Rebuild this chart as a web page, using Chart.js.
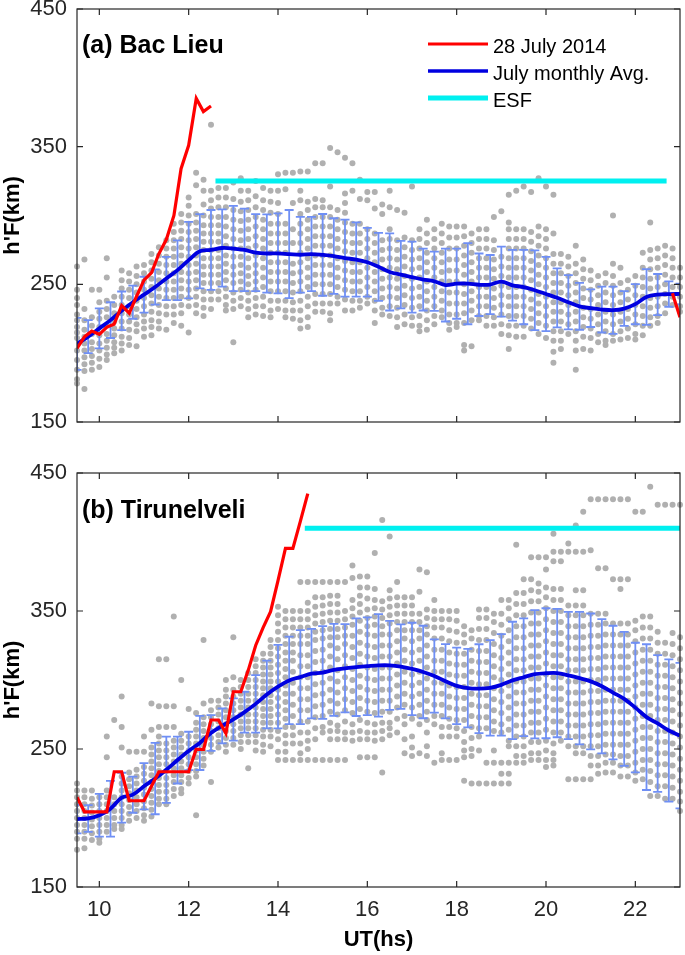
<!DOCTYPE html>
<html>
<head>
<meta charset="utf-8">
<script src="https://cdn.jsdelivr.net/npm/chart.js"></script>
<style>
body{margin:0;background:#fff;}
#wrap{position:relative;width:685px;height:955px;}
canvas{position:absolute;left:0;}
</style>
</head>
<body>
<div id="wrap">
<canvas id="chartA" width="685" height="445" style="top:0"></canvas>
<canvas id="chartB" width="685" height="505" style="top:450px"></canvas>
</div>
<script>
// axis ticks
const xTicks = [10, 12, 14, 16, 18, 20, 22];
const yTicks = [150, 250, 350, 450];
const tStart = 9.5;
const dotStep = 1/6;   // gray dots every 10 min
const binStep = 0.25;  // mean / std every 15 min

// ---- (a) Bac Lieu ----
const meanA = [206.7,212,218,224,230.8,237,242.5,248,254.3,260.3,267.6,274,275,276.4,276,275,273,272.4,272.5,272,271.5,272,271.4,270.5,269,268,266,262.7,259,257,255.2,253.5,252.2,249.5,250.5,250.5,249.7,249.8,252,249.3,248,245.7,243,240.2,237,234,232.7,231.7,231.2,232.4,235.6,240.8,242.6,242.9,243];
const sdA = [18.9,12,14.5,13,14,12,13,12.8,15.7,21.7,27.8,27,29,28,31,30,28,28.4,29,32,27.5,27,29.7,27.5,28,27,25,24.7,28,24.5,25.8,22.5,21.5,26.5,25.5,29.5,22.7,21.5,25.4,25.7,27,28.9,27,21.4,19.7,17,13.7,16.7,17.2,12.6,14.6,20.3,14.9,9.2,7.5];
const redTimesA = [9.5,9.67,9.83,10,10.17,10.33,10.5,10.67,10.83,11,11.17,11.33,11.5,11.67,11.83,12,12.17,12.33,12.5,12.67,22.83,23];
const redA = [203.5,212,216,213.7,219,221,234.5,229,241,253,258.5,272,282.5,300,334,351,385,375.5,379.5,null,243.5,226];
const esfTimesA = [12.6, 22.7];
const esfLevelA = 325;
const dotsA = [
[263,246,240,235,228,224,219,215,211,202,195,188,181,178],
[268,232,224,217,212,207,202,197,192,187,174],
[246,226,220,214,208,203,198,193,188],
[246,237,230,225,219,213,207,202,196,190],
[269,255,238,232,226,220,214,209,204,199,195],
[241,235,229,223,218,213,208,204,200],
[260,253,247,241,235,229,223,218,212,207,202],
[258,252,246,240,234,228,223,217,211,206],
[263,256,250,244,238,232,226,221,216,205],
[264,258,252,246,240,234,228,223,218,212],
[272,266,260,254,248,242,236,230,224,219,213],
[277,271,265,259,253,247,241,235,229,223,218],
[282,276,270,264,258,252,246,240,234,228,217],
[294,288,282,276,270,264,258,252,246,240,234,228,222],
[301,295,289,283,277,271,265,259,253,247,241,235,229,220],
[313,307,300,294,288,282,276,270,264,258,252,246,240,234,215],
[331,322,301,295,289,283,277,271,265,259,253,247,241,235,229],
[326,318,308,300,293,287,281,275,269,263,257,251,245,239,233,227],
[366,318,311,305,299,293,287,281,275,269,263,257,251,245,239,232],
[320,313,306,299,293,287,281,275,269,263,257,251,245,239],
[320,313,306,299,292,285,278,271,265,259,253,247,241,235,231],
[324,312,304,297,290,283,276,270,263,257,251,244,238,232,208],
[327,318,310,303,296,289,282,276,270,264,258,252,246,240,234],
[318,311,304,297,290,283,276,269,262,256,250,244,238,232,226],
[325,314,306,299,292,285,278,271,264,258,252,246,240,234,228],
[320,311,304,297,290,283,276,269,262,255,248,241,234,227],
[318,310,302,294,287,280,273,266,259,252,245,238,231,226],
[330,318,309,301,294,287,280,273,266,259,252,245,238,232],
[331,319,294,287,280,273,266,259,252,245,238,231,226],
[331,309,290,280,265,258,251,244,237,231,225],
[332,318,311,301,294,287,280,273,266,259,252,245,238,231,224,218],
[332,310,304,297,290,283,276,269,262,255,248,241,234,226,219],
[338,312,306,299,292,285,278,271,264,257,250,243,236,230],
[338,311,306,299,292,285,278,271,264,257,250,243,236,230],
[349,321,306,299,292,285,278,271,264,257,250,243,236,229,224],
[346,304,297,290,283,276,269,262,255,248,241,236],
[342,316,309,302,295,288,281,274,267,260,253,246,239,231],
[338,318,294,287,280,273,266,259,252,245,238,231],
[326,312,294,287,280,273,266,259,252,245,238,233],
[317,311,290,283,276,269,262,255,248,241,236],
[317,305,287,280,273,266,259,252,245,238,231,222],
[308,301,282,275,268,261,254,247,240,233,228],
[318,306,290,283,276,269,262,255,248,241,234,227],
[304,282,275,268,261,254,247,240,233,226,219],
[302,284,277,270,263,256,249,242,235,228,221],
[321,282,275,268,261,254,247,240,233,226,220],
[290,283,276,269,262,255,248,241,234,227,220,216],
[297,287,280,273,266,259,252,245,238,231,224,217],
[290,283,276,269,262,255,248,241,234,227,221],
[294,287,280,273,266,259,252,245,238,231,226],
[292,284,276,268,260,252,244,236,228,222,217],
[292,284,276,268,260,252,244,236,228,222,219],
[292,285,278,271,264,257,250,243,236,229,222,206,202],
[287,280,273,266,259,252,245,238,231,224,205],
[290,283,276,269,262,255,248,241,234,227,224],
[290,283,276,269,262,255,248,241,234,227,220],
[299,282,275,268,261,254,247,240,233,226,220],
[303,270,263,256,249,242,235,228,221,214],
[315,295,290,283,276,269,262,255,248,241,234,227,220,213,203],
[318,290,283,276,269,262,255,248,241,234,227,220,212],
[321,290,283,276,269,262,255,248,241,234,227,220,212],
[317,288,281,274,267,260,253,246,239,232,225,218],
[327,292,285,278,271,264,257,250,243,236,229,222,214],
[321,290,283,276,269,262,255,248,241,234,227,220,211],
[315,287,272,265,258,251,244,237,230,223,216,209,201,193],
[272,265,258,251,244,237,230,223,216,209,203],
[270,263,256,249,242,235,228,221,214],
[278,265,258,251,244,237,230,223,216,209,202,188],
[268,261,254,247,240,233,226,219,212,203],
[260,253,246,239,232,225,218,211,202],
[256,249,242,235,228,221,214,208],
[258,251,244,237,230,223,216,209,206],
[300,265,256,249,242,235,228,221,214,209],
[262,251,244,237,230,223,216,210],
[253,246,239,232,225,218,211],
[256,249,242,235,228,221,214,210],
[273,262,255,248,241,234,227,220,213],
[295,275,268,261,254,247,240,233,226,220],
[276,269,262,255,248,241,234,227,222],
[278,271,264,257,250,243,236,229],
[276,269,262,255,248,241,235],
[262,255,248,241,234,230]
];

// ---- (b) Tirunelveli ----
const meanB = [199.2,199.7,202,206.7,214.7,216.9,223,228.6,235,242,248.6,254.4,261.6,266.8,271.4,276.7,282.7,289.5,295.2,299.7,302.1,304.6,305.4,307.3,308.5,309.3,310,310.6,310.6,309.7,308,305.8,302.9,299.1,295.7,294.1,293.7,294.3,296.5,299.7,302,304.2,304.9,305,303.3,301.3,299,295.5,290.9,286.3,280,273.1,268.5,263.4,259.7];
const sdB = [10.3,9.7,15.5,20.2,18.1,13.1,16.7,25.9,24,17,13.9,19.6,13,12.7,15.3,14.8,20.9,24.5,30.2,31.7,34.1,32.4,33.6,33.3,32,35.4,35.4,37.2,32.3,30.6,33.5,33.5,26.5,26.9,27.7,28.4,32.2,34.6,36.8,42.5,42.6,46.5,47.1,46.5,46.1,48,49.2,48.6,48.4,48.6,47,52.8,49.5,51.6,52.7];
// 10-min samples from 09:30 UT
const redB = [215,204.5,204.5,204.5,204.5,233.5,233.5,212.5,212.5,212.5,223,233.5,233.5,233.5,233.5,233.5,249.7,249.7,271,271,261.4,291.5,291.5,307,325,338,349.5,372,395.4,395.4,415,435];
const esfTimesB = [14.6, 23.2];
const esfLevelB = 410;
const dotsB = [
[225,220,215,210,205,200,195,190,185,177],
[220,215,210,205,200,195,190,185,178],
[220,214,209,204,199,194,189,184],
[215,210,205,200,195,190,185,182],
[259,244,220,215,210,205,200,195,190],
[271,215,210,205,200,195,192],
[288,266,251,230,225,220,215,210,205,200,195,192],
[248,233,228,223,218,213,208,203,198],
[248,235,230,225,220,215,210,205,200],
[259,248,237,232,227,222,217,212,207,202,198],
[283,264,251,246,241,236,231,226,221,216,211,206,201],
[315,281,266,259,254,249,244,239,234,229,224,219,214,210],
[315,281,266,254,249,244,239,234,229,224,219,214,210],
[346,281,266,256,251,246,241,236,231,226,221,216],
[300,261,256,251,246,241,236,231,226,221,218],
[279,259,254,249,244,239,234,229,225],
[276,269,264,259,254,249,244,239,234,230,202],
[329,283,273,268,263,258,253,248,243,238],
[285,278,273,268,263,258,253,248,226],
[285,280,275,270,265,260,255,251],
[300,293,288,283,278,273,268,263,258,253,248],
[331,302,293,288,283,278,273,268,263,258,253],
[300,295,290,285,280,275,270,265,260,255,250],
[305,300,295,290,285,280,275,270,265,260,255,236],
[315,310,305,300,295,290,285,280,275,270,265,260,255,249],
[319,314,309,304,299,294,289,284,279,274,269,264,259,253,248],
[329,324,319,314,309,304,299,294,289,284,279,274,269,264,259,252],
[353,347,341,335,329,323,317,311,305,299,293,287,281,275,269,263,257,248,242],
[350,344,338,332,326,320,314,308,302,296,290,284,278,272,266,260,254,248,242],
[350,344,338,332,326,320,314,306,298,290,282,274,266,260,254,242],
[371,350,344,338,332,326,318,310,302,294,286,278,270,262,254,247,242],
[371,356,350,344,338,332,326,318,310,302,294,286,278,270,262,256,250,242],
[371,360,353,347,341,335,329,321,313,305,297,289,281,273,265,257,242],
[371,360,354,348,342,336,330,322,314,306,298,290,282,274,266,262,242],
[371,361,355,349,343,337,331,325,317,309,301,293,285,277,269,263,257,242],
[371,361,355,349,343,337,331,323,315,307,299,291,283,275,267,263,257,242],
[371,350,344,338,332,326,318,310,302,294,286,278,270,262,257,242],
[383,374,358,352,346,340,332,324,316,308,300,292,284,276,268,262,256],
[375,367,361,355,349,343,335,327,319,311,303,295,287,279,271,263,257,244],
[375,367,359,351,345,339,333,325,317,309,301,293,285,277,269,262,257,244],
[392,366,358,352,346,340,332,324,316,308,300,292,284,276,268,262,256,244],
[416,357,351,345,339,333,325,317,309,301,293,285,277,269,263,257,233],
[404,365,359,353,347,341,333,325,317,309,301,293,285,277,269,265,260],
[371,360,354,348,342,336,328,320,312,304,296,288,280,272,262],
[360,354,348,342,336,330,322,314,306,298,290,282,274,268,257,247],
[360,354,348,342,336,328,320,312,304,296,288,280,272,259,251,245],
[380,364,348,342,336,330,322,314,306,298,290,282,274,268,247],
[378,351,345,339,333,325,317,309,301,293,285,277,271,262,252,245],
[358,350,344,338,330,322,314,306,298,290,282,274,268,240],
[350,344,338,330,322,314,306,298,290,282,274,266,259,247,242],
[350,344,336,328,320,312,304,296,288,280,272,266,259,242],
[350,343,335,327,319,311,303,295,287,279,271,265,259,242],
[339,333,327,319,311,303,295,287,279,271,263,255,249,244,227],
[336,330,322,314,306,298,290,282,274,266,258,250,245,225],
[351,345,337,329,321,313,305,297,289,281,273,265,259,249,225],
[351,345,337,329,321,313,305,297,289,281,273,265,240,225],
[348,342,334,326,318,310,302,294,286,278,270,263,249,240,225],
[358,348,340,332,324,316,308,300,292,284,276,268,262,240,232,225],
[358,352,344,336,328,320,312,304,296,288,280,272,264,256,252,240,232,225],
[398,363,355,347,339,331,323,315,307,299,291,283,275,267,259,252,245,240],
[373,363,355,347,339,331,323,315,307,299,291,283,275,267,259,252,245,240],
[389,373,365,357,349,341,333,325,317,309,301,293,285,277,269,262,255,247,242],
[389,370,364,357,349,341,333,325,317,309,301,293,285,277,269,262,255,247,242],
[389,380,367,360,352,344,336,328,320,312,304,296,288,280,272,264,256,249,242,237],
[406,393,386,366,358,350,342,334,326,318,310,302,294,286,278,270,262,254,247,242,238],
[393,386,366,358,350,342,334,326,318,310,302,294,286,278,270,262,256],
[399,393,354,347,339,331,323,315,307,299,291,283,275,267,259,252,228],
[412,393,365,354,347,339,331,323,315,307,299,291,283,275,267,259,252,247,228],
[422,393,365,354,347,339,331,323,315,307,299,291,283,275,267,259,252,247,228],
[431,394,348,340,332,324,316,308,300,292,284,276,268,260,252,245,238,228],
[431,381,348,340,332,324,316,308,300,292,284,276,268,260,252,245,238,232],
[431,381,348,341,333,325,317,309,301,293,285,277,269,261,253,246,240,233],
[431,373,341,333,325,317,309,301,293,285,277,269,261,253,246,240,233],
[431,373,366,341,333,325,317,309,301,293,285,277,269,261,253,245,238,230],
[431,373,341,333,325,317,309,301,293,285,277,269,261,253,245,238,230],
[422,343,336,328,320,312,304,296,288,280,272,264,256,248,240,233,227],
[422,346,338,330,322,314,306,298,290,282,274,266,258,250,242,235,228],
[440,346,338,330,322,314,306,298,290,282,274,266,258,250,242,234,226,216],
[427,335,327,319,311,303,295,287,279,271,263,255,247,239,231,223,216],
[427,327,319,311,303,295,287,279,271,263,255,247,239,231,223,214],
[427,334,326,318,310,302,294,286,278,270,262,254,246,238,230,222,214],
[427,331,323,315,307,299,291,283,275,267,259,251,243,235,227,219,212,205]
];

const FONT = "'Liberation Sans', Arial, Helvetica, sans-serif";
const INK = '#262626';
const DOT = '#B0B0B0';
const BAR = '#6F8FF5';
const AVG = '#0000E0';
const RED = '#FF0000';
const CYAN = '#00F0F0';

function noPad(s){
    s.paddingTop = 0; s.paddingBottom = 0;
    s.paddingLeft = 0; s.paddingRight = 0;
}

function framePlugin(p){
    return {
        id: 'frame' + p.key,
        afterDatasetDraw(chart, args){
            if(chart.data.datasets[args.index].label !== 'dots') return;
            // error bars (mean +/- std) right above the gray dots
            const {ctx, chartArea: ca, scales:{x, y}} = chart;
            ctx.save();
            ctx.beginPath();
            ctx.rect(ca.left, ca.top, ca.right - ca.left, ca.bottom - ca.top);
            ctx.clip();
            ctx.strokeStyle = BAR;
            ctx.lineWidth = 1.8;
            p.mean.forEach((m, k) => {
                const px = x.getPixelForValue(tStart + k*binStep);
                const top = y.getPixelForValue(m + p.sd[k]);
                const bot = y.getPixelForValue(m - p.sd[k]);
                ctx.beginPath();
                ctx.moveTo(px, top); ctx.lineTo(px, bot);
                ctx.moveTo(px - 4.5, top); ctx.lineTo(px + 4.5, top);
                ctx.moveTo(px - 4.5, bot); ctx.lineTo(px + 4.5, bot);
                ctx.stroke();
            });
            ctx.restore();
        },
        afterDraw(chart){
            const {ctx, chartArea: ca, scales:{x, y}} = chart;
            ctx.save();
            // box + inward ticks
            ctx.strokeStyle = INK;
            ctx.lineWidth = 1.2;
            ctx.strokeRect(ca.left, ca.top, ca.right - ca.left, ca.bottom - ca.top);
            ctx.beginPath();
            xTicks.forEach(v => {
                const px = x.getPixelForValue(v);
                ctx.moveTo(px, ca.bottom); ctx.lineTo(px, ca.bottom - 6);
                ctx.moveTo(px, ca.top); ctx.lineTo(px, ca.top + 6);
            });
            yTicks.forEach(v => {
                const py = y.getPixelForValue(v);
                ctx.moveTo(ca.left, py); ctx.lineTo(ca.left + 6, py);
                ctx.moveTo(ca.right, py); ctx.lineTo(ca.right - 6, py);
            });
            ctx.stroke();

            // panel title
            ctx.fillStyle = '#000';
            ctx.font = `bold 25px ${FONT}`;
            ctx.textBaseline = 'alphabetic';
            ctx.fillText(p.title, ca.left + 5, ca.top + p.titleDy);

            if(p.legend){
                const rows = [
                    {c: RED, w: 3, t: '28 July 2014', y: 44},
                    {c: AVG, w: 3.5, t: 'July monthly Avg.', y: 71},
                    {c: CYAN, w: 5, t: 'ESF', y: 98}
                ];
                ctx.font = `20px ${FONT}`;
                rows.forEach(r => {
                    ctx.strokeStyle = r.c;
                    ctx.lineWidth = r.w;
                    ctx.beginPath();
                    ctx.moveTo(428, r.y); ctx.lineTo(488, r.y);
                    ctx.stroke();
                    ctx.fillStyle = '#000';
                    ctx.fillText(r.t, 493, r.y + 9);
                });
            }
            ctx.restore();
        }
    };
}

function makePanel(canvasId, p){
    const dots = [];
    p.dots.forEach((col, i) => col.forEach(v => dots.push({x: tStart + i*dotStep, y: v})));
    const avg = p.mean.map((m, k) => ({x: tStart + k*binStep, y: m}));
    const red = p.red.map((v, n) => ({x: p.redTimes[n], y: v}));
    const esf = p.esfTimes.map(t => ({x: t, y: p.esfLevel}));

    return new Chart(document.getElementById(canvasId), {
        type: 'line',
        data: {
            datasets: [
                {label: 'red', data: red, borderColor: RED, borderWidth: 3.2, pointRadius: 0, spanGaps: false, order: 1},
                {label: 'esf', data: esf, borderColor: CYAN, borderWidth: 5, borderCapStyle: 'butt', pointRadius: 0, order: 2},
                {label: 'avg', data: avg, borderColor: AVG, borderWidth: 3.8, pointRadius: 0, tension: 0.35, order: 3},
                {label: 'dots', type: 'scatter', data: dots, backgroundColor: DOT, borderWidth: 0, pointRadius: 3, clip: false, order: 10}
            ]
        },
        options: {
            responsive: false,
            animation: false,
            events: [],
            devicePixelRatio: 1,
            layout: {padding: {left: 0, right: 5, top: p.padTop, bottom: 0}},
            plugins: {legend: {display: false}, tooltip: {enabled: false}},
            scales: {
                x: {
                    type: 'linear', min: 9.5, max: 23,
                    grid: {display: false, drawTicks: false},
                    border: {display: false},
                    afterBuildTicks: s => { s.ticks = xTicks.map(v => ({value: v})); },
                    ticks: {display: p.xLabels, autoSkip: false, maxRotation: 0, padding: 10, color: INK, font: {family: FONT, size: 22}},
                    title: {display: p.xLabels, text: 'UT(hs)', color: '#000', font: {family: FONT, size: 22, weight: 'bold'}, padding: {top: 0, bottom: 2}},
                    afterFit: s => { s.height = p.xHeight; noPad(s); }
                },
                y: {
                    min: 150, max: 450,
                    grid: {display: false, drawTicks: false},
                    border: {display: false},
                    afterBuildTicks: s => { s.ticks = yTicks.map(v => ({value: v})); },
                    ticks: {padding: 10, color: INK, font: {family: FONT, size: 22}},
                    title: {display: true, text: "h'F(km)", color: '#000', font: {family: FONT, size: 22, weight: 'bold'}, padding: {top: 0, bottom: 0}},
                    afterFit: s => { s.width = 77; noPad(s); }
                }
            }
        },
        plugins: [framePlugin(p)]
    });
}

makePanel('chartA', {
    key: 'A', title: '(a) Bac Lieu', titleDy: 44, legend: true,
    padTop: 9, xHeight: 23, xLabels: false,
    dots: dotsA, mean: meanA, sd: sdA,
    red: redA, redTimes: redTimesA,
    esfTimes: esfTimesA, esfLevel: esfLevelA
});

makePanel('chartB', {
    key: 'B', title: '(b) Tirunelveli', titleDy: 45, legend: false,
    padTop: 23, xHeight: 68, xLabels: true,
    dots: dotsB, mean: meanB, sd: sdB,
    red: redB, redTimes: redB.map((v, n) => tStart + n*dotStep),
    esfTimes: esfTimesB, esfLevel: esfLevelB
});
</script>
</body>
</html>
